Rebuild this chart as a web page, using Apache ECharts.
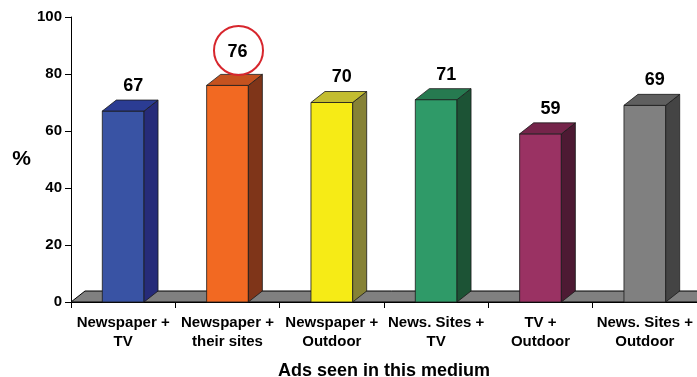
<!DOCTYPE html>
<html>
<head>
<meta charset="utf-8">
<script src="https://cdn.jsdelivr.net/npm/echarts@6/dist/echarts.min.js"></script>
<style>
  html, body { margin: 0; padding: 0; background: #fff; }
  #chart { width: 697px; height: 377px; }
</style>
</head>
<body>
<div id="chart"></div>
<script>
// Ad combinations and the share (%) recalling them
const categories = [
  'Newspaper +\nTV',
  'Newspaper +\ntheir sites',
  'Newspaper +\nOutdoor',
  'News. Sites +\nTV',
  'TV +\nOutdoor',
  'News. Sites +\nOutdoor'
];
const values = [67, 76, 70, 71, 59, 69];
const yTicks = [0, 20, 40, 60, 80, 100];

// Face colours per bar: front, top, side
const frontColors = ['#3953a4', '#f26922', '#f6eb16', '#2f9a68', '#9a3263', '#808080'];
const topColors   = ['#2b3c93', '#c5521f', '#c3bd30', '#267a50', '#75244a', '#5f5f5f'];
const sideColors  = ['#262b79', '#7f3519', '#868236', '#1c5335', '#4d1a33', '#444444'];

const FONT = '"Liberation Sans", Arial, sans-serif';
const DX = 14;   // depth offset to the right
const DY = 11;   // depth offset upwards
const maxValue = Math.max.apply(null, values);

function renderFloor(params, api) {
  const cs = params.coordSys;
  const yb = cs.y + cs.height;
  return {
    type: 'polygon',
    shape: {
      points: [
        [cs.x, yb],
        [cs.x + DX, yb - DY],
        [cs.x + cs.width + DX, yb - DY],
        [cs.x + cs.width, yb]
      ]
    },
    style: { fill: '#808080', stroke: '#000', lineWidth: 1 }
  };
}

function renderBar(params, api) {
  const idx = params.dataIndex;
  const v = api.value(1);
  const base = api.coord([api.value(0), 0]);
  const top = api.coord([api.value(0), v]);
  const band = api.size([1, 0])[0];
  const w = band * 0.4;
  const x0 = base[0] - w / 2;
  const x1 = base[0] + w / 2;
  const yb = base[1];
  const yt = top[1];
  const edge = { stroke: '#1a1a1a', lineWidth: 0.8 };
  const highlighted = v === maxValue;
  const lx = base[0] + 10;
  const ly = yt - DY - (highlighted ? 22 : 14);
  const children = [
    {
      type: 'rect',
      shape: { x: x0, y: yt, width: w, height: yb - yt },
      style: Object.assign({ fill: frontColors[idx] }, edge)
    },
    {
      type: 'polygon',
      shape: { points: [[x1, yt], [x1 + DX, yt - DY], [x1 + DX, yb - DY], [x1, yb]] },
      style: Object.assign({ fill: sideColors[idx] }, edge)
    },
    {
      type: 'polygon',
      shape: { points: [[x0, yt], [x0 + DX, yt - DY], [x1 + DX, yt - DY], [x1, yt]] },
      style: Object.assign({ fill: topColors[idx] }, edge)
    },
    {
      type: 'text',
      style: {
        x: lx, y: ly, text: String(v),
        fill: '#000', font: 'bold 18px ' + FONT,
        textAlign: 'center', textVerticalAlign: 'middle'
      }
    }
  ];
  if (highlighted) {
    children.push({
      type: 'ellipse',
      shape: { cx: lx + 1, cy: ly - 2, rx: 24.5, ry: 24.5 },
      style: { fill: 'none', stroke: '#d7262d', lineWidth: 2 }
    });
  }
  return { type: 'group', children: children };
}

const chart = echarts.init(document.getElementById('chart'), null, { renderer: 'canvas' });
chart.setOption({
  animation: false,
  backgroundColor: '#fff',
  grid: {
    left: 71, right: 0, top: 17, bottom: 75,
    containLabel: false,
    outerBoundsMode: 'none'
  },
  xAxis: {
    type: 'category',
    data: categories,
    boundaryGap: true,
    name: 'Ads seen in this medium',
    nameLocation: 'middle',
    nameGap: 60,
    nameTextStyle: { fontFamily: FONT, fontWeight: 'bold', fontSize: 18, color: '#000' },
    axisLine: { lineStyle: { color: '#000', width: 1 } },
    axisTick: { show: true, length: 6, alignWithLabel: false, lineStyle: { color: '#000' } },
    axisLabel: {
      interval: 0, margin: 11,
      fontFamily: FONT, fontWeight: 'bold', fontSize: 15, lineHeight: 19, color: '#000'
    },
    splitLine: { show: false }
  },
  yAxis: {
    type: 'value',
    min: yTicks[0],
    max: yTicks[yTicks.length - 1],
    interval: yTicks[1] - yTicks[0],
    name: '%',
    nameLocation: 'middle',
    nameRotate: 0,
    nameGap: 40,
    nameTextStyle: { fontFamily: FONT, fontWeight: 'bold', fontSize: 21, color: '#000' },
    axisLine: { show: true, lineStyle: { color: '#000', width: 1 } },
    axisTick: { show: true, length: 6, lineStyle: { color: '#000' } },
    axisLabel: { margin: 9, fontFamily: FONT, fontWeight: 'bold', fontSize: 15, color: '#000' },
    splitLine: { show: false }
  },
  series: [
    {
      type: 'custom',
      name: 'floor',
      renderItem: renderFloor,
      data: [[0, 0]],
      clip: false,
      z: 1,
      silent: true
    },
    {
      type: 'custom',
      name: 'bars',
      renderItem: renderBar,
      data: values.map(function (v, i) { return [i, v]; }),
      encode: { x: 0, y: 1 },
      clip: false,
      z: 3
    }
  ]
});
</script>
</body>
</html>
